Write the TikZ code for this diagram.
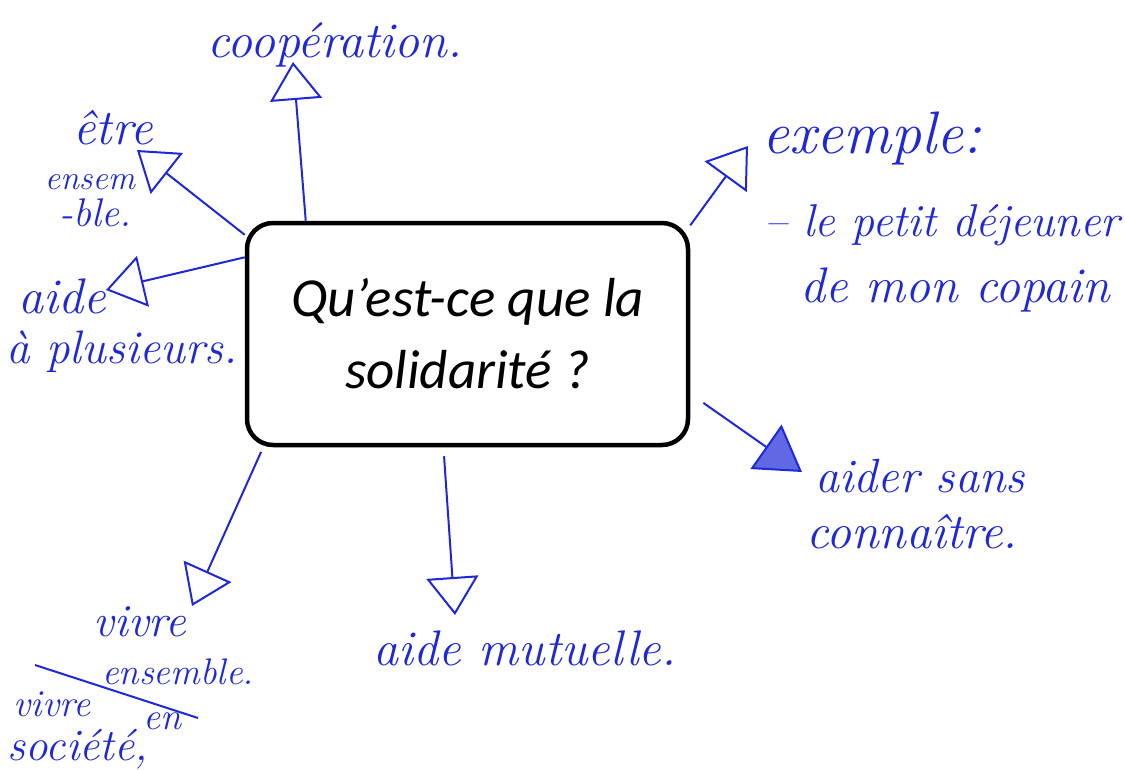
\documentclass[tikz,border=0pt]{standalone}
\usepackage{fontspec}
\newfontfamily\boxfont{Carlito}
\usetikzlibrary{arrows.meta}
\definecolor{ink}{RGB}{30,40,215}

\begin{document}
\begin{tikzpicture}[x=1pt,y=-1pt,
    question/.style={draw,rounded corners=26pt,line width=4.5pt,minimum width=441pt,minimum height=222pt,align=center,font=\boxfont\itshape\fontsize{55}{72}\selectfont},
    label_node/.style={text=ink,align=center,inner sep=0pt,font=\itshape\fontsize{50}{56}\selectfont},
    small_label/.style={label_node,font=\itshape\fontsize{40}{44}\selectfont},
    link/.style={ink,line width=2pt,-{Triangle[open,length=38pt,width=52pt]}}]
    \useasboundingbox (0,0) rectangle (1125,769);
    \node[question] (q) at (467.5,334) {Qu’est-ce que la\\solidarité ?};
    % labels
    \node[label_node] (coop) at (335,45) {coopération.};
    \node[label_node] (etre) at (113,128) {être};
    \node[small_label,font=\itshape\fontsize{34}{40}\selectfont] (ensem) at (90,182) {ensem};
    \node[small_label] (ble) at (95,213) {-ble.};
    \node[label_node] (aide) at (62,296) {aide};
    \node[label_node,font=\itshape\fontsize{47}{50}\selectfont] (plus) at (122,352) {à plusieurs.};
    \node[label_node,font=\itshape\fontsize{60}{64}\selectfont] (ex) at (872,138) {exemple:};
    \node[label_node,font=\itshape\fontsize{46}{50}\selectfont] (petit) at (942,225) {-- le petit déjeuner};
    \node[label_node] (copain) at (955,290) {de mon copain};
    \node[label_node,font=\itshape\fontsize{48}{52}\selectfont] (sans) at (920,476) {aider sans};
    \node[label_node,font=\itshape\fontsize{50}{54}\selectfont] (conn) at (912,532) {connaître.};
    \node[label_node] (mut) at (525,648) {aide mutuelle.};
    \node[small_label,font=\itshape\fontsize{46}{50}\selectfont] (vivre) at (140,622) {vivre};
    \node[small_label,font=\itshape\fontsize{37}{40}\selectfont] (ens) at (178,672) {ensemble.};
    \node[small_label,font=\itshape\fontsize{38}{40}\selectfont] (vivre2) at (52,704) {vivre};
    \node[small_label,font=\itshape\fontsize{38}{40}\selectfont] (en) at (162,721) {en};
    \node[small_label,font=\itshape\fontsize{45}{48}\selectfont] (soc) at (78,749) {société,};
    % arrow ends
    \coordinate (coop_tip) at (293,62);
    \coordinate (etre_tip) at (137,150);
    \coordinate (aide_tip) at (106,290);
    \coordinate (ex_tip) at (748,146);
    \coordinate (sans_tip) at (802,472);
    \coordinate (mut_tip) at (455,615);
    \coordinate (vivre_tip) at (192,606);
    \draw[link] (q.145) -- (coop_tip);
    \draw[link] (q.156.4) -- (etre_tip);
    \draw[link] (q.161.4) -- (aide_tip);
    \draw[link] (q.26.9) -- (ex_tip);
    \draw[link,-{Triangle[fill=ink!70,length=44pt,width=54pt]},shorten <=16pt] (q.-15.2) -- (sans_tip);
    \draw[link,shorten <=9pt] (q.-102) -- (mut_tip);
    \draw[link,shorten <=5pt] (q.-151.3) -- (vivre_tip);
    \draw[ink,line width=2pt] (35,665) -- (198,718);
\end{tikzpicture}
\end{document}
